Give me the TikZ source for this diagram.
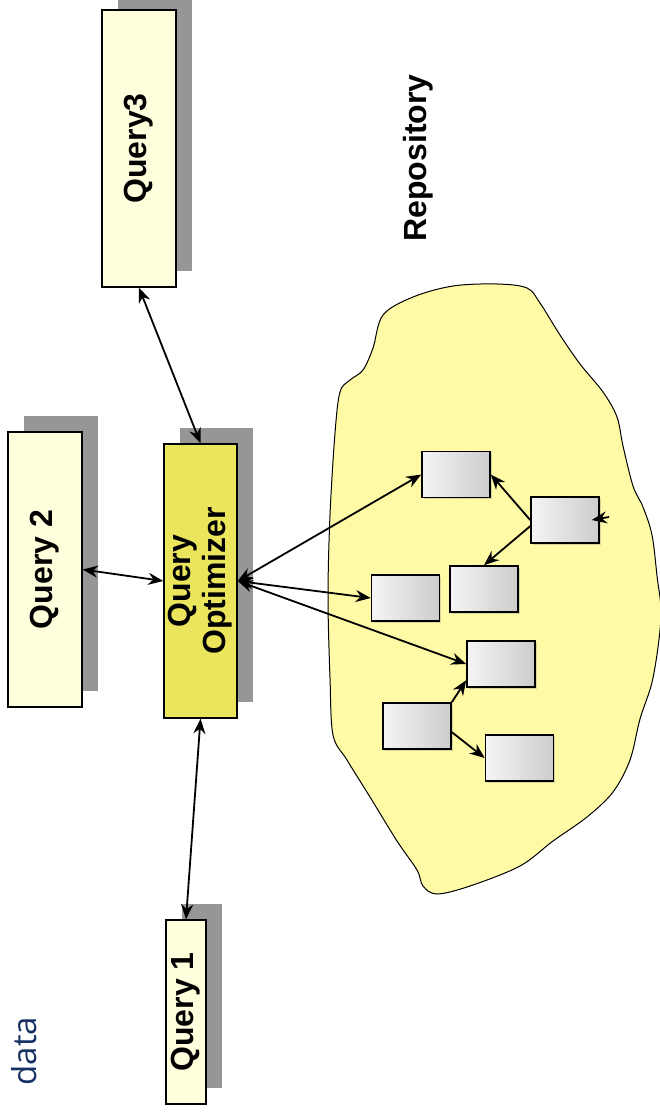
\documentclass[tikz,border=0pt]{standalone}
\usepackage{fontspec}
\setmainfont{Liberation Sans}
\newfontfamily\slidefont{Open Sans}
\usepackage{xcolor}
\usetikzlibrary{arrows.meta,shadows}
\definecolor{qyellow}{RGB}{255,255,221}
\definecolor{optyellow}{RGB}{234,229,92}
\definecolor{blobyellow}{RGB}{255,250,165}
\definecolor{qshade}{RGB}{150,150,150}
\definecolor{slideblue}{RGB}{22,48,100}

\begin{document}
\begin{tikzpicture}[x=1pt, y=-1pt,
    qbox/.style={draw=black, line width=1.4pt, fill=qyellow, inner sep=0pt,
      font=\fontsize{32}{35}\selectfont\bfseries,
      drop shadow={shadow xshift=16pt, shadow yshift=16pt, fill=qshade, opacity=1}},
    repbox/.style={draw=black, line width=1.6pt, left color=gray!8, right color=gray!40,
      minimum width=68pt, minimum height=46pt, inner sep=0pt,
      drop shadow={shadow xshift=1.5pt, shadow yshift=-1.5pt, opacity=0.3}},
    link/.style={line width=1.8pt, {Stealth[length=15pt,width=12pt]}-{Stealth[length=15pt,width=12pt]}},
    arr/.style={line width=1.8pt, -{Stealth[length=15pt,width=12pt]}}]
    \useasboundingbox (0,0) rectangle (660,1113);
    \filldraw[fill=blobyellow, draw=black, line width=1pt] plot[smooth cycle, tension=0.55] coordinates {
        (383,315) (413,297) (453,286) (497,284) (527,288) (540,303) (560,335) (580,364)
        (603,392) (617,417) (623,446) (633,486) (643,507) (652,535) (657,576) (661,617)
        (653,678) (640,719) (630,760) (613,792) (587,817) (553,841) (520,866) (470,886)
        (437,894) (423,886) (417,870) (397,841) (370,797) (347,760) (333,735) (330,678)
        (328,597) (330,515) (335,433) (340,392) (350,380) (363,370) (373,348)};
    \node[text=slideblue, font=\slidefont\fontsize{33}{36}\selectfont, inner sep=0pt] (datatext) at (24,1051) {\rotatebox{90}{data}};
    \node[qbox, minimum width=74pt, minimum height=277pt] (q3) at (139,148.5) {\rotatebox{90}{Query3}};
    \node[qbox, minimum width=74pt, minimum height=275pt] (q2) at (45,569.5) {\rotatebox{90}{Query 2}};
    \node[qbox, fill=optyellow, minimum width=73pt, minimum height=274pt] (opt) at (200.5,581)
        {\rotatebox{90}{\begin{tabular}{@{}c@{}}Query\\Optimizer\end{tabular}}};
    \node[qbox, minimum width=40pt, minimum height=184pt] (q1) at (186,1012) {\rotatebox{90}{Query 1}};
    \node[font=\fontsize{32}{35}\selectfont\bfseries, inner sep=0pt] (replabel) at (418,158) {\rotatebox{90}{Repository}};
    \foreach \n/\x/\y in {ra/456/474.5, rb/565/520, rc/484/589, rd/405.5/598, re/501/664, rf/417/726, rg/519.5/758}
        \node[repbox] (\n) at (\x,\y) {};
    \coordinate (bstub) at (609,517);
    \draw[link] (q3.south) -- (opt.north);
    \draw[link] (q2.east) -- (opt.west);
    \draw[link] (opt.south) -- (q1.north);
    \foreach \t in {ra,rd,re}
        \draw[link] (opt.east) -- (\t.west);
    \draw[arr] (rb.west) -- (ra.east);
    \draw[arr] (rb.190) -- (rc.north);
    \draw[arr] (rf.north east) -- (re.205);
    \draw[arr] (rf.350) -- (rg.west);
    \draw[arr] (bstub) -- ([xshift=-8pt]rb.east);
\end{tikzpicture}
\end{document}
